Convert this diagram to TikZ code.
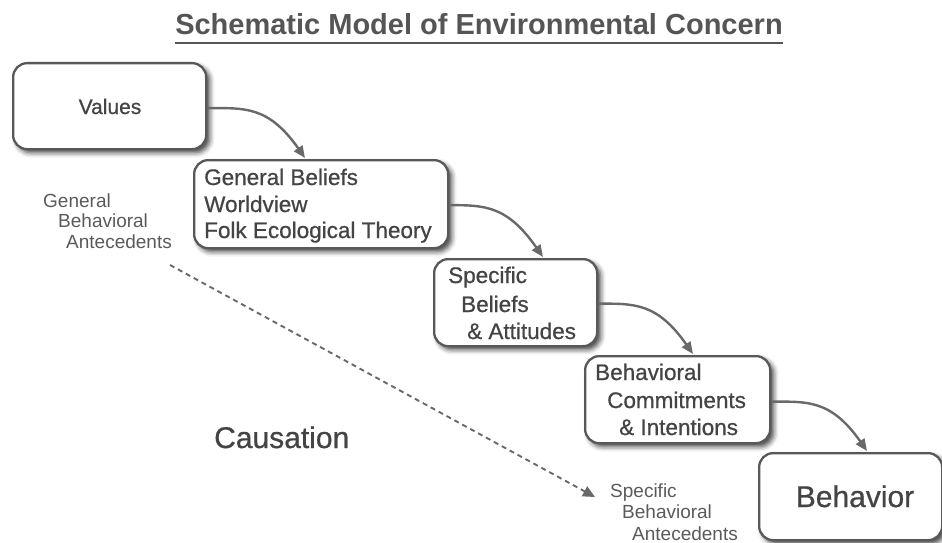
\documentclass[tikz,border=0pt]{standalone}
\usepackage{fontspec}
\setmainfont{Liberation Sans}
\newfontfamily\medfont[FakeBold=0.7]{Liberation Sans}
\usetikzlibrary{shadows.blur,arrows.meta,calc}
\definecolor{boxline}{HTML}{585858}
\definecolor{txt}{HTML}{444444}
\definecolor{lbl}{HTML}{5A5A5A}
\definecolor{arr}{HTML}{696969}
\definecolor{ttl}{HTML}{555555}
\begin{document}
\begin{tikzpicture}[x=1pt,y=-1pt,
 box/.style={draw=boxline, line width=2.3pt, fill=white, rounded corners=14pt, anchor=north west, inner sep=0,
   blur shadow={shadow xshift=3.5pt, shadow yshift=-3.5pt, shadow blur radius=5pt, shadow opacity=75}},
 btxt/.style={anchor=base west, inner sep=0, text=txt, font=\medfont\fontsize{22.5}{26}\selectfont},
 ltxt/.style={anchor=base west, inner sep=0, text=lbl, font=\fontsize{19}{22}\selectfont},
 flow/.style={draw=arr, line width=2.4pt, -{Triangle[length=12pt,width=10pt]}},
 arcflow/.style={out=0, in=125, out looseness=0.85, in looseness=1.5},
]
\useasboundingbox (0,0) rectangle (942,543);
% title
\node[anchor=base, inner sep=0, text=ttl, font=\fontsize{29}{34}\selectfont\bfseries] (title) at (479,35) {Schematic Model of Environmental Concern};
\draw[ttl, line width=1.6pt] ([yshift=-8pt]title.base west) -- ([yshift=-8pt]title.base east);
% boxes
\node[box, minimum width=193pt, minimum height=86pt] (val) at (12,62) {};
\node[box, minimum width=254pt, minimum height=88pt] (gb) at (193,159) {};
\node[box, minimum width=163pt, minimum height=87pt] (sp) at (433,258) {};
\node[box, minimum width=185pt, minimum height=87pt] (bc) at (584,355) {};
\node[box, minimum width=183pt, minimum height=87pt] (bh) at (758,452) {};
% box texts
\node[btxt, anchor=base, font=\medfont\fontsize{21}{25}\selectfont] (tval) at (110,114) {Values};
\node[btxt] (tgb1) at (204,185) {General Beliefs};
\node[btxt] (tgb2) at (204,212) {Worldview};
\node[btxt] (tgb3) at (204,238) {Folk Ecological Theory};
\node[btxt] (tsp1) at (448,283) {Specific};
\node[btxt] (tsp2) at (461,312) {Beliefs};
\node[btxt] (tsp3) at (467,339) {\& Attitudes};
\node[btxt] (tbc1) at (595,380) {Behavioral};
\node[btxt] (tbc2) at (607,408) {Commitments};
\node[btxt] (tbc3) at (619,435) {\& Intentions};
\node[btxt, anchor=base, font=\medfont\fontsize{30}{34}\selectfont] (tbh) at (855,507) {Behavior};
\node[btxt, font=\medfont\fontsize{30}{34}\selectfont] (cau) at (214,448) {Causation};
% side labels
\node[ltxt] (g1) at (43,207) {General};
\node[ltxt] (g2) at (58,227) {Behavioral};
\node[ltxt] (g3) at (66,248) {Antecedents};
\node[ltxt] (s1) at (610,497) {Specific};
\node[ltxt] (s2) at (622,518) {Behavioral};
\node[ltxt] (s3) at (632,540) {Antecedents};
% arrows
\draw[flow] ([yshift=-2pt]val.east) to[arcflow] ($(gb.north west)+(112,-1)$);
\draw[flow] ([yshift=-1pt]gb.east) to[arcflow] ($(sp.north west)+(110,-1)$);
\draw[flow] ([yshift=-1pt]sp.east) to[arcflow] ($(bc.north west)+(109,-1)$);
\draw[flow] ([yshift=-2pt]bc.east) to[arcflow] ($(bh.north west)+(109,-1)$);
% dashed causation arrow
\coordinate (d1) at (170,265);
\coordinate (d2) at (595,497);
\draw[draw=arr, line width=1.9pt, dash pattern=on 5pt off 4pt, -{Triangle[length=12pt,width=11pt]}] (d1) -- (d2);
\end{tikzpicture}
\end{document}
